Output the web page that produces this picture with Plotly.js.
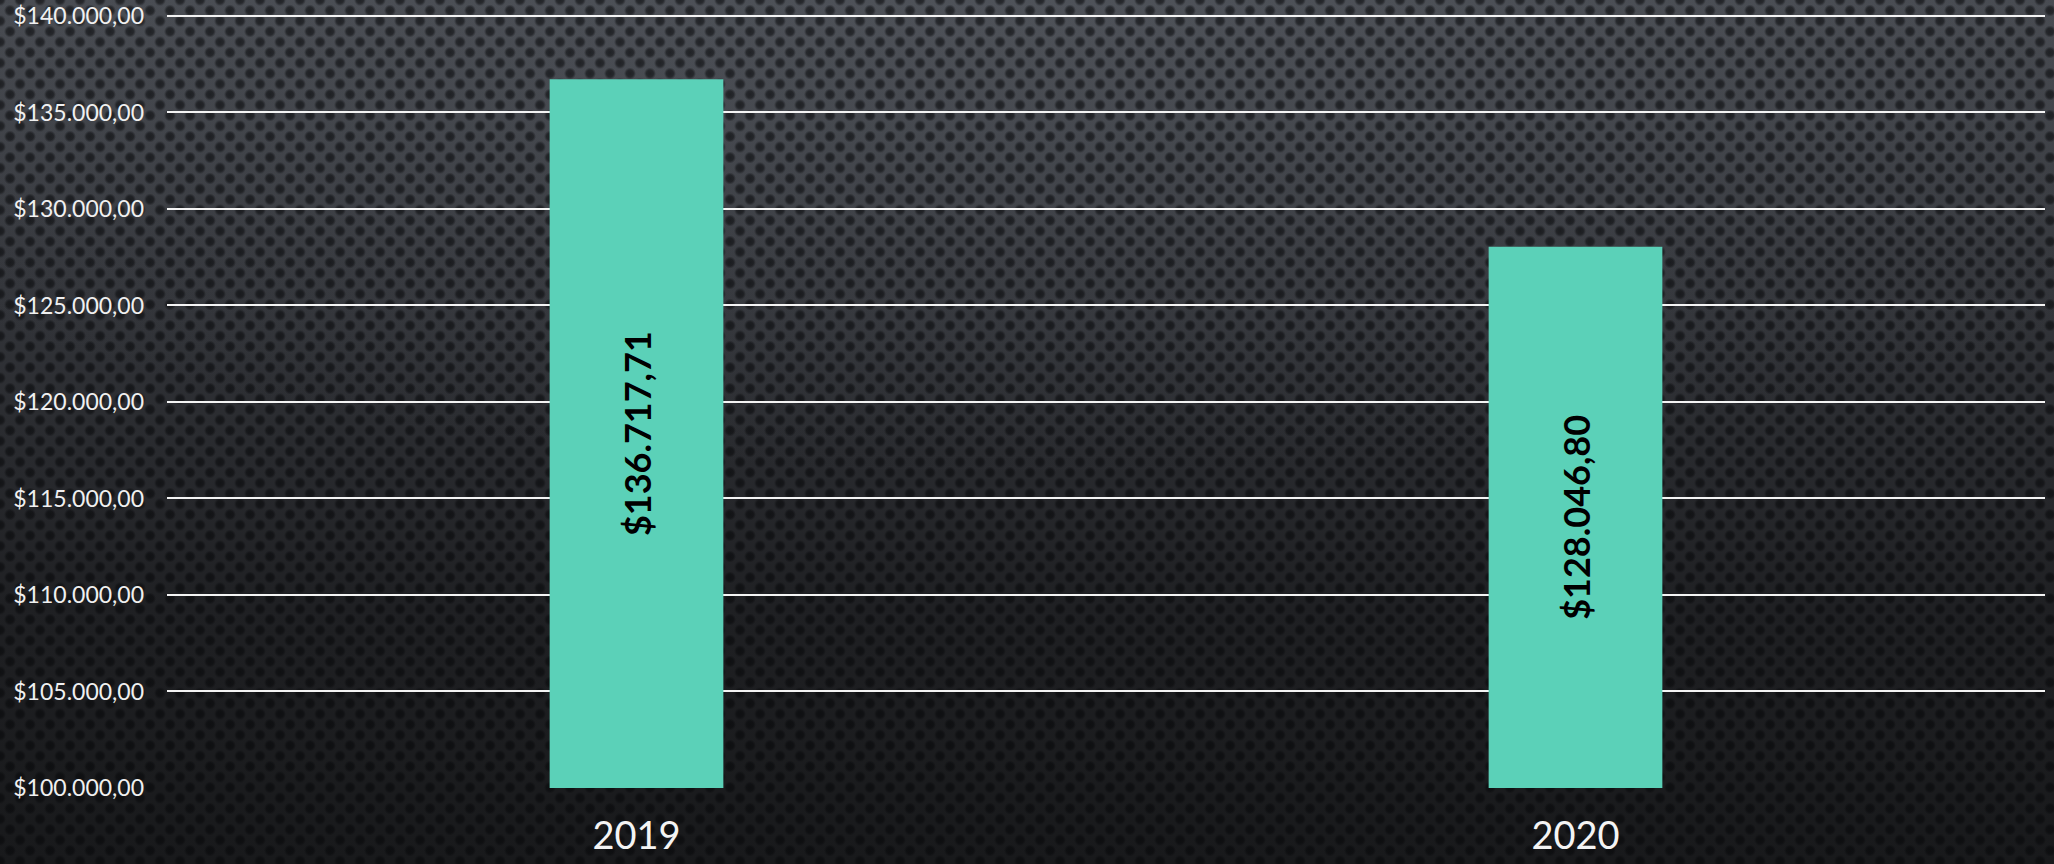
<!DOCTYPE html>
<html>
<head>
<meta charset="utf-8">
<script src="https://cdn.plot.ly/plotly-3.0.1.min.js"></script>
<style>
  html, body { margin: 0; padding: 0; width: 2054px; height: 864px; overflow: hidden; }
  body {
    background-color: #222326;
    background-image:
      radial-gradient(circle at 50% 50%, rgba(6,7,9,0.62) 0px, rgba(6,7,9,0.52) 3.5px, rgba(6,7,9,0) 6px),
      radial-gradient(circle at 50% 50%, rgba(6,7,9,0.62) 0px, rgba(6,7,9,0.52) 3.5px, rgba(6,7,9,0) 6px),
      radial-gradient(ellipse 70% 55% at 50% 0%, rgba(95,100,108,0.35) 0%, rgba(95,100,108,0) 100%),
      linear-gradient(to bottom, #46494f 0%, #323439 35%, #1f2023 70%, #18191b 100%);
    background-size: 20px 21px, 20px 21px, 100% 100%, 100% 100%;
    background-position: 0 0, 10px 10.5px, 0 0, 0 0;
  }
  #chart { width: 2054px; height: 864px; }
</style>
</head>
<body>
<div id="chart"></div>
<script>
const categories = ['2019', '2020'];
const values = [136717.71, 128046.80];
const yTickMin = 100000;
const yTickMax = 140000;
const yTickStep = 5000;

// bars start at the bottom of the visible axis so their labels sit in the visible part
const trace = {
  type: 'bar',
  x: categories,
  base: categories.map(() => yTickMin),
  y: values.map(v => v - yTickMin),
  customdata: values,
  marker: { color: '#5bd1b8' },
  texttemplate: '$%{customdata:,.2f}',
  textposition: 'inside',
  insidetextanchor: 'middle',
  textangle: -90,
  constraintext: 'none',
  textfont: { family: 'Lato, "Open Sans", sans-serif', size: 36, color: '#000000', weight: 'bold' },
  hoverinfo: 'none'
};

const layout = {
  width: 2054,
  height: 864,
  margin: { l: 167, r: 9, t: 14, b: 76, pad: 0 },
  paper_bgcolor: 'rgba(0,0,0,0)',
  plot_bgcolor: 'rgba(0,0,0,0)',
  separators: ',.',
  bargap: 0.815,
  showlegend: false,
  xaxis: {
    type: 'category',
    showgrid: false,
    zeroline: false,
    showline: false,
    ticks: '',
    ticklabelstandoff: 22,
    tickfont: { family: 'Lato, "Open Sans", sans-serif', size: 38, color: '#f4f4f4' }
  },
  yaxis: {
    range: [yTickMin, yTickMax + 100],
    tick0: yTickMin,
    dtick: yTickStep,
    tickprefix: '$',
    tickformat: ',.2f',
    showgrid: true,
    gridcolor: '#f4f4f4',
    gridwidth: 2,
    zeroline: false,
    showline: false,
    ticks: '',
    ticklabelstandoff: 22,
    tickfont: { family: 'Lato, "Open Sans", sans-serif', size: 23, color: '#f0f0f0' }
  }
};

Plotly.newPlot('chart', [trace], layout, { staticPlot: true, displayModeBar: false });
</script>
</body>
</html>
